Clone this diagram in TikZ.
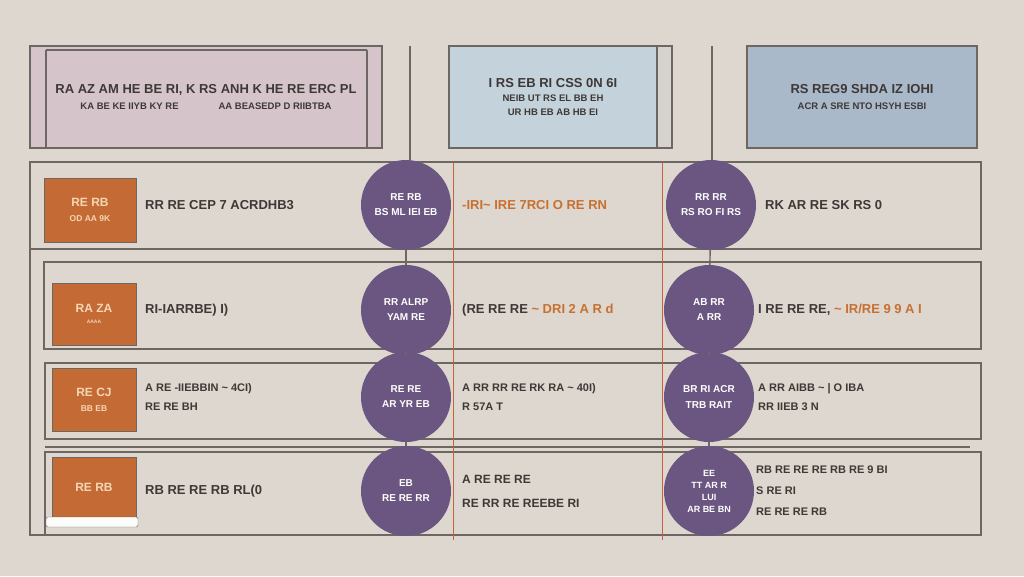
\documentclass[tikz,border=0pt]{standalone}
\usepackage{fontspec}
\setmainfont{Liberation Sans}
\usetikzlibrary{positioning}
\definecolor{paper}{RGB}{221,215,207}
\definecolor{edge}{RGB}{110,102,98}
\definecolor{rust}{RGB}{196,106,52}
\definecolor{rustline}{RGB}{196,98,60}
\definecolor{tagtext}{RGB}{246,214,180}
\definecolor{plum}{RGB}{106,86,128}
\definecolor{ink}{RGB}{62,56,54}
\definecolor{amber}{RGB}{200,112,48}
\definecolor{rosefill}{RGB}{213,197,203}
\definecolor{skyfill}{RGB}{196,210,219}
\definecolor{steelfill}{RGB}{169,185,202}
\definecolor{stripfill}{RGB}{214,210,205}

\begin{document}
\begin{tikzpicture}[x=1pt, y=-1pt,
  frame/.style={draw=edge, line width=1.2pt},
  headbox/.style={draw=edge, line width=1.2pt, align=center, text=ink, inner sep=0pt, font=\bfseries\fontsize{13}{20}\selectfont},
  tag/.style={draw=edge, fill=rust, minimum width=92pt, minimum height=64pt, text=tagtext, align=center, inner sep=1pt, font=\bfseries\fontsize{12}{15}\selectfont},
  hub/.style={circle, fill=plum, minimum size=90pt, inner sep=1pt, text=white, align=center, font=\bfseries\fontsize{10}{15}\selectfont},
  note/.style={anchor=west, align=left, text=ink, inner sep=0pt, font=\bfseries\fontsize{13}{20}\selectfont},
  link/.style={draw=edge, line width=1.4pt},
  rule/.style={draw=rustline, line width=1pt}
]
\fill[paper] (0,0) rectangle (1024,576);
\useasboundingbox (0,0) rectangle (1024,576);

% header boxes
\node[headbox, fill=rosefill, minimum width=352pt, minimum height=102pt] (head) at (206,97)
  {RA AZ AM HE BE RI, K RS ANH K HE RE ERC PL\\[-4pt]
   {\fontsize{9.5}{12}\selectfont KA BE KE IIYB KY RE\hspace{40pt}AA BEASEDP D RIIBTBA}};
\draw[frame] (46,50) -- (367,50);
\draw[frame] (46,50) -- (46,148);
\draw[frame] (367,50) -- (367,148);
\fill[stripfill] (657,46) rectangle (672,148);
\draw[frame] (657,46) rectangle (672,148);
\node[headbox, fill=skyfill, minimum width=208pt, minimum height=102pt] (mid) at (553,97)
  {I RS EB RI CSS 0N 6I\\[-6pt]
   {\fontsize{9.5}{16}\selectfont NEIB UT RS EL BB EH}\\[-6pt]
   {\fontsize{9.5}{16}\selectfont UR HB EB AB HB EI}};
\node[headbox, fill=steelfill, minimum width=230pt, minimum height=102pt] (side) at (862,97)
  {RS REG9 SHDA IZ IOHI\\[-4pt]
   {\fontsize{9.5}{12}\selectfont ACR A SRE NTO HSYH ESBI}};

% row frames
\draw[frame] (30,162) rectangle (981,249);
\draw[frame] (44,262) rectangle (981,349);
\draw[frame] (45,363) rectangle (981,439);
\draw[frame, line width=2pt] (45,363) -- (975,363);
\draw[frame] (45,452) rectangle (981,535);
\draw[frame] (45,447) -- (970,447);
\draw[frame] (30,249) -- (30,535) -- (453,535);
\draw[rule] (453,162) -- (453,540);
\draw[rule] (662,162) -- (662,540);

% orange tags
\node[tag] (t1) at (90,210) {RE RB\\{\fontsize{8.5}{10}\selectfont OD AA 9K}};
\node[tag, minimum width=84pt, minimum height=62pt] (t2) at (94,314) {RA ZA\\[-4pt]{\fontsize{5}{6}\selectfont AAAA}};
\node[tag, minimum width=84pt, minimum height=63pt] (t3) at (94,400) {RE CJ\\{\fontsize{8.5}{10}\selectfont BB EB}};
\node[tag, minimum width=84pt, minimum height=60pt] (t4) at (94,487) {RE RB};
\draw[draw=edge, fill=white!92!paper, rounded corners=2pt] (46,517) rectangle (138,527);

% hubs
\node[hub] (c1) at (406,205) {RE RB\\BS ML IEI EB};
\node[hub] (c2) at (406,310) {RR ALRP\\YAM RE};
\node[hub] (c3) at (406,397) {RE RE\\AR YR EB};
\node[hub] (c4) at (406,491) {EB\\RE RE RR};
\node[hub] (d1) at (711,205) {RR RR\\RS RO FI RS};
\node[hub] (d2) at (709,310) {AB RR\\A RR};
\node[hub] (d3) at (709,397) {BR RI ACR\\TRB RAIT};
\node[hub, font=\bfseries\fontsize{9}{12}\selectfont] (d4) at (709,491) {EE\\TT AR R\\LUI\\AR BE BN};

% connectors
\coordinate (topA) at (410,46);
\coordinate (topB) at (712,46);
\draw[link] (topA) -- (topA |- c1.north);
\draw[link] (c1) -- (c2); \draw[link] (c2) -- (c3); \draw[link] (c3) -- (c4);
\draw[link] (topB) -- (topB |- d1.north);
\draw[link] (d1) -- (d2); \draw[link] (d2) -- (d3); \draw[link] (d3) -- (d4);

% row texts
\node[note] (l1) at (145,205) {RR RE CEP 7 ACRDHB3};
\node[note] (l2) at (145,310) {RI-IARRBE) I)};
\node[note, font=\bfseries\fontsize{11}{19}\selectfont] (l3) at (145,397) {A RE -IIEBBIN \textasciitilde{} 4CI)\\RE RE BH};
\node[note] (l4) at (145,491) {RB RE RE RB RL(0};
\node[note, text=amber] (m1) at (462,205) {-IRI\textasciitilde{} IRE 7RCI O RE RN};
\node[note] (m2) at (462,310) {(RE RE RE \textcolor{amber}{\textasciitilde{} DRI 2 A R d}};
\node[note, font=\bfseries\fontsize{11}{19}\selectfont] (m3) at (462,397) {A RR RR RE RK RA \textasciitilde{} 40I)\\R 57A T};
\node[note, font=\bfseries\fontsize{12}{24}\selectfont] (m4) at (462,491) {A RE RE RE\\RE RR RE REEBE RI};
\node[note] (r1) at (765,205) {RK AR RE SK RS 0};
\node[note] (r2) at (758,310) {I RE RE RE, \textcolor{amber}{\textasciitilde{} IR/RE 9 9 A I}};
\node[note, font=\bfseries\fontsize{11}{19}\selectfont] (r3) at (758,397) {A RR AIBB \textasciitilde{} | O IBA\\RR IIEB 3 N};
\node[note, font=\bfseries\fontsize{11}{21}\selectfont] (r4) at (756,491) {RB RE RE RE RB RE 9 BI\\S RE RI\\RE RE RE RB};
\end{tikzpicture}
\end{document}
